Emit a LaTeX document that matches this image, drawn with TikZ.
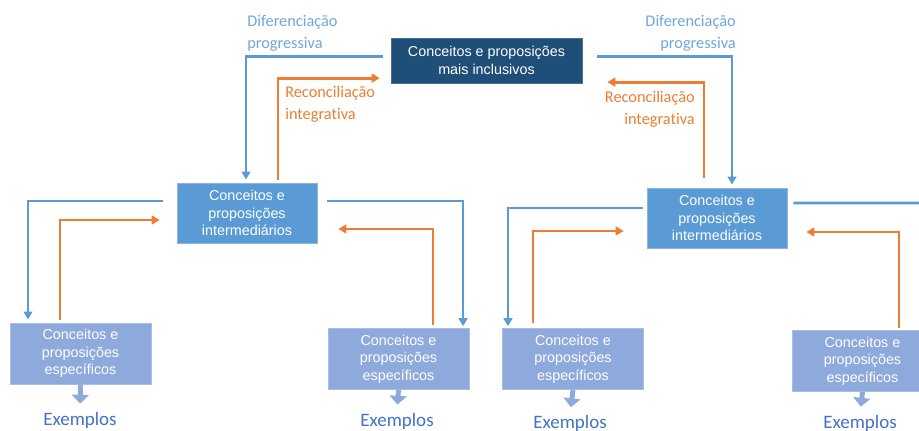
\documentclass[tikz,border=0pt]{standalone}
\usepackage{fontspec}
\setmainfont{Liberation Sans}
\newfontfamily\labelfont[Ligatures=NoCommon]{Carlito}
\usetikzlibrary{arrows.meta,positioning}
\definecolor{navy}{HTML}{1F4E79}
\definecolor{navyline}{HTML}{41719C}
\definecolor{interblue}{HTML}{5B9BD5}
\definecolor{interline}{HTML}{8DB5E2}
\definecolor{especblue}{HTML}{8EA9DB}
\definecolor{especline}{HTML}{A9BEE5}
\definecolor{difblue}{HTML}{5B9BD5}
\definecolor{diftext}{HTML}{6FA6DA}
\definecolor{recorange}{HTML}{ED7D31}
\definecolor{exblue}{HTML}{4472C4}
\begin{document}
\begin{tikzpicture}[x=0.025cm,y=-0.025cm,
  font=\fontsize{10.2}{12.6}\selectfont,
  >={Triangle[length=2mm,width=2.2mm]},
  incl/.style={draw=navyline,fill=navy,text=white,minimum width=4.775cm,minimum height=1.125cm,align=center},
  inter/.style={draw=interline,fill=interblue,text=white,minimum width=3.5cm,minimum height=1.5cm,align=center},
  espec/.style={draw=especline,fill=especblue,text=white,minimum width=3.525cm,minimum height=1.525cm,align=center},
  difer/.style={draw=difblue,line width=2pt},
  recon/.style={draw=recorange,line width=2pt},
  lbl/.style={font=\labelfont\fontsize{11.6}{15.5}\selectfont,inner sep=0pt},
  exarr/.style={draw=especblue,line width=3.5pt,-{Triangle[length=2.2mm,width=4.2mm]}},
  exlbl/.style={font=\labelfont\fontsize{13.5}{15}\selectfont,text=exblue,inner sep=0pt}]
\useasboundingbox (0,0) rectangle (919,430);
\clip (0,0) rectangle (919,430);
% top level
\node[incl] (incl) at (486.5,60.5) {Conceitos e proposições\\mais inclusivos};
\node[lbl,text=diftext,anchor=west,align=left] (difL) at (247,33) {Diferenciação\\progressiva};
\node[lbl,text=diftext,anchor=east,align=right] (difR) at (736,33) {Diferenciação\\progressiva};
\node[lbl,text=recorange,anchor=west,align=left] (recL) at (285,104) {Reconciliação\\integrativa};
\node[lbl,text=recorange,anchor=east,align=right] (recR) at (695,109) {Reconciliação\\integrativa};

% intermediate level
\node[inter] (interL) at (247,213) {Conceitos e\\proposições\\intermediários};
\node[inter] (interR) at (717,218) {Conceitos e\\proposições\\intermediários};

% specific level
\node[espec] (specLL) at (80.5,353.5) {Conceitos e\\proposições\\específicos};
\node[espec] (specLR) at (398.5,359) {Conceitos e\\proposições\\específicos};
\node[espec] (specRL) at (573,359) {Conceitos e\\proposições\\específicos};
\node[espec] (specRR) at (862.5,361) {Conceitos e\\proposições\\específicos};

% examples
\node[exlbl] (exLL) at (80,420) {Exemplos};
\node[exlbl] (exLR) at (397,421) {Exemplos};
\node[exlbl] (exRL) at (570,423.5) {Exemplos};
\node[exlbl] (exRR) at (860,423) {Exemplos};
\foreach \s/\e in {specLL/exLL,specLR/exLR,specRL/exRL,specRR/exRR}
  \draw[exarr,shorten >=0.2cm] (\s.south) -- (\e.north);

% top connectors
\draw[->,difer,shorten >=0.08cm] ([xshift=-0.2cm,yshift=0.09cm]incl.west) -| ([xshift=-0.025cm]interL.north);
\draw[->,recon,shorten <=0.08cm] ([xshift=0.775cm]interL.north) |- ([xshift=-0.275cm,yshift=-0.44cm]incl.west);
\draw[->,difer,shorten >=0.08cm] ([xshift=0.375cm,yshift=0.09cm]incl.east) -| ([xshift=0.375cm]interR.north);
\draw[->,recon,shorten <=0.25cm] ([xshift=-0.325cm]interR.north) |- ([xshift=0.625cm,yshift=-0.54cm]incl.east);

% left intermediate connectors
\draw[->,difer,shorten >=0.08cm] ([xshift=-0.35cm,yshift=0.3cm]interL.west) -| ([xshift=-1.3125cm]specLL.north);
\draw[->,recon,shorten <=0.08cm] ([xshift=-0.5125cm]specLL.north) |- ([xshift=-0.425cm,yshift=-0.175cm]interL.west);
\draw[->,difer,shorten >=0.05cm] ([xshift=0.25cm,yshift=0.3cm]interL.east) -| ([xshift=1.6125cm]specLR.north);
\draw[->,recon,shorten <=0.08cm] ([xshift=0.8625cm]specLR.north) |- ([xshift=0.525cm,yshift=-0.4cm]interL.east);

% right intermediate connectors
\coordinate (edgeR) at (925,203);
\draw[->,difer,shorten >=0.05cm] ([xshift=-0.1cm,yshift=0.25cm]interR.west) -| ([xshift=-1.625cm]specRL.north);
\draw[->,recon,shorten <=0.12cm] ([xshift=-1cm]specRL.north) |- ([xshift=-0.575cm,yshift=-0.325cm]interR.west);
\draw[difer] ([xshift=0.15cm,yshift=0.375cm]interR.east) -- (edgeR);
\draw[->,recon,shorten <=0.05cm] ([xshift=0.9125cm]specRR.north) |- ([xshift=0.475cm,yshift=-0.35cm]interR.east);
\end{tikzpicture}
\end{document}
